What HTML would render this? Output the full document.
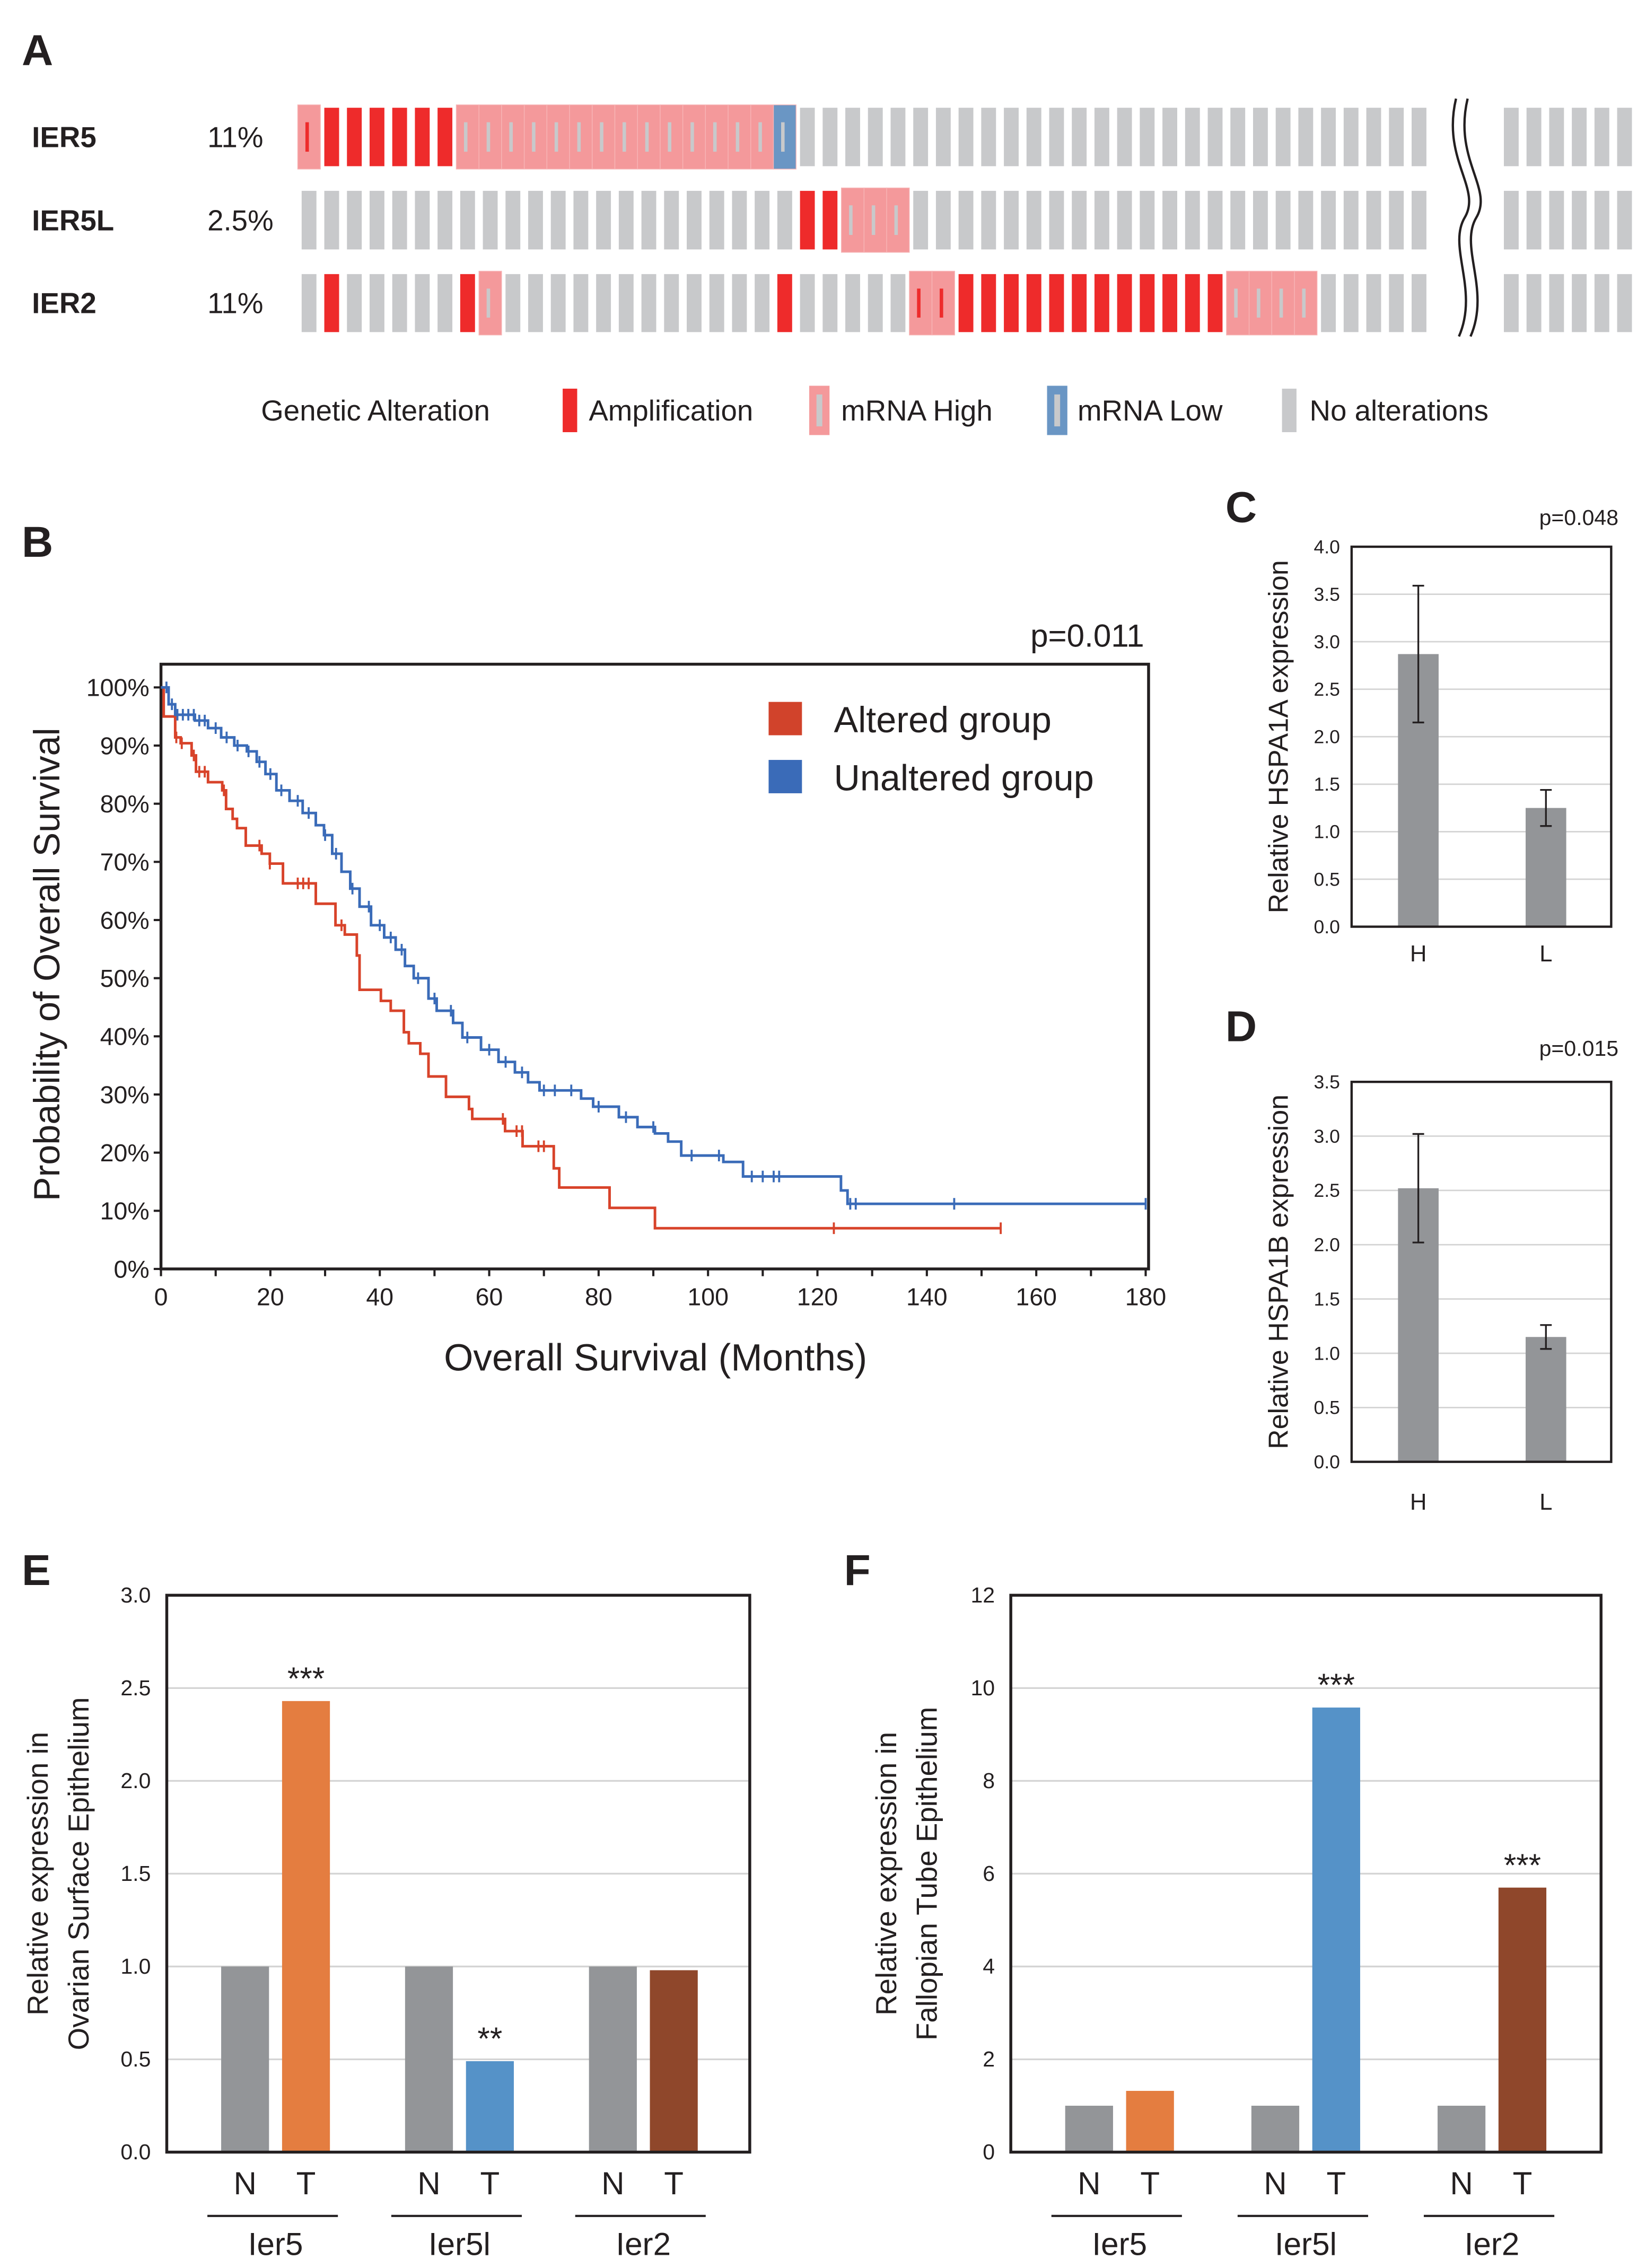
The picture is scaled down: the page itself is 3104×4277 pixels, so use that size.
<!DOCTYPE html>
<html><head><meta charset="utf-8"><style>
html,body{margin:0;padding:0;background:#fff}
svg{display:block}
text{font-family:"Liberation Sans",Arial,sans-serif;fill:#231f20}
</style></head><body>
<svg id="fig" width="3104" height="4277" viewBox="0 0 1135 1563.9" preserveAspectRatio="none" xmlns="http://www.w3.org/2000/svg">
<rect width="1135" height="1564" fill="#fff"/>
<text x="15" y="45" font-size="30" font-weight="bold">A</text>
<text x="15" y="384" font-size="30" font-weight="bold">B</text>
<text x="845" y="360" font-size="30" font-weight="bold">C</text>
<text x="845" y="718" font-size="30" font-weight="bold">D</text>
<text x="15" y="1093" font-size="30" font-weight="bold">E</text>
<text x="582" y="1093" font-size="30" font-weight="bold">F</text>
<g id="pa"></g>
<g id="pb"></g>
<g id="pc"></g>
<g id="pd"></g>
<g id="pe"></g>
<g id="pf"></g>
</svg>
<script>
const NS="http://www.w3.org/2000/svg";
function mk(p,tag,a,txt){const e=document.createElementNS(NS,tag);for(const k in a)e.setAttribute(k,a[k]);if(txt!==undefined)e.textContent=txt;p.appendChild(e);return e;}

// ---- Panel A data ----
const genes=["IER5","IER5L","IER2"];
const genePct=["11%","2.5%","11%"];
const ampCols=[[1,2,3,4,5,6],[22,23],[1,7,21,29,30,31,32,33,34,35,36,37,38,39,40]];
const highCols=[[0,7,8,9,10,11,12,13,14,15,16,17,18,19,20],[24,25,26],[8,27,28,41,42,43,44]];
const highAmpCols=[[0],[],[27,28]];
const lowCols=[[21],[],[]];

// ---- Panel B data ----
const altTimes=[0,0.5,2.6,3.6,5.6,6.4,8.6,11.2,11.9,13.1,13.9,15.5,18.4,19.9,22.3,28.3,31.9,33.6,35.8,36.3,40.2,42,44.4,45.3,47.4,48.9,52.1,56.3,56.9,62.9,66.1,71.8,72.8,82,90.3];
const altSurv=[100,95,91.4,90.4,88.3,85.5,83.7,82.3,79.1,77.4,75.8,72.8,71.4,69.7,66.3,62.8,59.1,57.5,53.9,48.0,46.1,44.4,40.7,38.8,37.0,33.1,29.6,27.5,25.8,23.7,21.1,17.3,14.0,10.5,7.0];
const altEnd=153.5;
const altCensor=[2.8,3.8,6,7,8,11.5,18,19.9,25,26,27,33,62.5,65,66,69,70,123,153.5];
const unTimes=[0,1.4,2.6,6.2,8.6,11,13.4,15.7,17.5,19.1,21.1,23.5,25.9,28.3,29.8,31.3,33,34.6,36.3,38.4,40.8,42.9,44.6,46.2,48.9,50.4,53.4,55.1,58.5,61.7,64.7,67.1,69.2,76.8,79,83.7,87.1,90.3,92.7,95.1,102.8,106.4,124.3,125.5];
const unSurv=[100,97.1,95.3,94.3,93,91.4,90,89,87.2,85.1,82.3,80.5,78.4,76.3,74.6,71.4,68.3,65.4,62.3,59.1,57,54.9,52.1,50,46.5,44.4,42.3,39.8,37.7,35.6,33.8,32.1,30.7,29.3,27.9,26.1,24.4,23.3,21.9,19.5,18.4,15.9,13.5,11.2];
const unEnd=180;
const unCensor=[1,2,3,4,5,6,7,8,10,12,14,16,18,20,22,25,27,30,32,35,38,40,42,44,47,50,53,56,60,63,66,70,72,75,80,85,90,97,102,108,110,112,113,126,127,145,180];
const kmXTicks=[0,20,40,60,80,100,120,140,160,180];
const kmYTicks=[0,10,20,30,40,50,60,70,80,90,100];

// ---- Panels C/D data ----
const hsCats=["H","L"];
const hsp1aVals=[2.87,1.25];
const hsp1aErr=[0.72,0.19];
const hsp1aTicks=[0,0.5,1,1.5,2,2.5,3,3.5,4];
const hsp1bVals=[2.52,1.15];
const hsp1bErr=[0.5,0.11];
const hsp1bTicks=[0,0.5,1,1.5,2,2.5,3,3.5];

// ---- Panels E/F data ----
const genesEF=["Ier5","Ier5l","Ier2"];
const eN=[1.0,1.0,1.0];
const eT=[2.43,0.49,0.98];
const eStars=["***","**",""];
const eTicks=[0,0.5,1,1.5,2,2.5,3];
const fN=[1.0,1.0,1.0];
const fT=[1.32,9.58,5.7];
const fStars=["","***","***"];
const fTicks=[0,2,4,6,8,10,12];
const tColors=["#e47d40","#5592c8","#8f472b"];

// ===== Panel A =====
(function(){
const g=document.getElementById('pa');
const x0=208,pitch=15.62,bw=10.2,rows=[[74.3,114.6],[131.6,172],[189,229]];
genes.forEach((gn,r)=>{
  const [yt,yb]=rows[r],cy=(yt+yb)/2;
  const t=mk(g,'text',{x:22,y:cy+7,'font-size':20,'font-weight':'bold'},gn);
  
  
  const p=mk(g,'text',{x:143,y:cy+7,'font-size':20},genePct[r]);
  
  
  for(let i=0;i<56;i++){
    const x=i<50?x0+i*pitch:1037+(i-50)*pitch;
    let type='none';
    if(i<50){ if(lowCols[r].includes(i))type='low'; else if(highAmpCols[r].includes(i))type='highamp'; else if(highCols[r].includes(i))type='high'; else if(ampCols[r].includes(i))type='amp'; }
    if(type==='high'||type==='low'||type==='highamp'){
      const b=mk(g,'rect',{x:x-2.7,y:yt-2,width:pitch,height:yb-yt+4,fill:type==='low'?'#6a96c4':'#f4999b',stroke:'#f7b5b6','stroke-width':0.5});
      
      
      mk(g,'rect',{x:x+bw/2-2.5,y:yt+10,width:2.4,height:yb-yt-20,fill:type==='highamp'?'#ee2b2b':'#c8c9cb'});
    } else {
      const b=mk(g,'rect',{x:x,y:yt,width:bw,height:yb-yt,fill:type==='amp'?'#ee2b2b':'#c8c9cb'});
      
      
    }
  }
});
const br=mk(g,'path',{d:'M1004,68 C994,110 1022,130 1010,150 C998,170 1020,200 1006,232',fill:'none',stroke:'#231f20','stroke-width':1.6});

mk(g,'path',{d:'M1012,68 C1002,110 1030,130 1018,150 C1006,170 1028,200 1014,232',fill:'none',stroke:'#231f20','stroke-width':1.6});
const L=[["Genetic Alteration",180,null],["Amplification",406,'amp'],["mRNA High",580,'high'],["mRNA Low",743,'low'],["No alterations",903,'none']];
const lx={amp:388,high:558,low:722,none:884};
L.forEach(([t,x,k])=>{
  const e=mk(g,'text',{x:x,y:290,'font-size':20,fill:'#333'},t);
  
  if(k==='amp')mk(g,'rect',{x:388,y:268,width:10,height:30,fill:'#ee2b2b'});
  if(k==='none')mk(g,'rect',{x:884,y:268,width:10,height:30,fill:'#c8c9cb'});
  if(k==='high'||k==='low'){mk(g,'rect',{x:lx[k],y:266,width:14,height:34,fill:k==='high'?'#f4999b':'#6a96c4'});mk(g,'rect',{x:lx[k]+5,y:272,width:4,height:22,fill:'#c8c9cb'});}
});
})();

// ===== Panel B =====
(function(){
const g=document.getElementById('pb');
const X0=111,X1=790,Y0=875,Y100=474;
const sx=m=>X0+(X1-X0)*m/180, sy=v=>Y0-(Y0-Y100)*v/100;
const f=mk(g,'rect',{x:X0,y:458,width:681,height:417,fill:'none',stroke:'#231f20','stroke-width':2});

kmYTicks.forEach(v=>{mk(g,'line',{x1:X0-5,x2:X0,y1:sy(v),y2:sy(v),stroke:'#231f20','stroke-width':1.5});
  const t=mk(g,'text',{x:X0-8,y:sy(v)+6,'font-size':17,'text-anchor':'end'},v+'%');});
for(let m=0;m<=180;m+=10)mk(g,'line',{x1:sx(m),x2:sx(m),y1:Y0,y2:Y0+5,stroke:'#231f20','stroke-width':1.5});
kmXTicks.forEach(m=>{const t=mk(g,'text',{x:sx(m),y:900,'font-size':17,'text-anchor':'middle'},m);});
const xt=mk(g,'text',{x:452,y:945,'font-size':26,'text-anchor':'middle'},'Overall Survival (Months)');
const yt=mk(g,'text',{x:0,y:0,'font-size':25,'text-anchor':'middle',transform:'translate(41,665) rotate(-90)'},'Probability of Overall Survival');
const pv=mk(g,'text',{x:789,y:446,'font-size':22,'text-anchor':'end'},'p=0.011');
function curve(T,S,end,C,col,name){
  let d='M'+sx(T[0])+','+sy(S[0]);
  for(let i=1;i<T.length;i++){d+=' H'+sx(T[i])+' V'+sy(S[i]);}
  d+=' H'+sx(end);
  const p=mk(g,'path',{d:d,fill:'none',stroke:col,'stroke-width':1.8});
  
  C.forEach(c=>{let v=S[0];for(let i=0;i<T.length;i++)if(T[i]<=c)v=S[i];
    const m=mk(g,'line',{x1:sx(c),x2:sx(c),y1:sy(v)-4,y2:sy(v)+4,stroke:col,'stroke-width':1.4});
    });
}
curve(altTimes,altSurv,altEnd,altCensor,'#d8432a','altered-curve');
curve(unTimes,unSurv,unEnd,unCensor,'#3a6bb8','unaltered-curve');
[['Altered group','#d1432b',484,505],['Unaltered group','#3a6bb8',524,545]].forEach(([t,c,y,ty])=>{
  const r=mk(g,'rect',{x:530,y:y,width:23,height:23,fill:c});
  const e=mk(g,'text',{x:575,y:ty,'font-size':25},t);});
})();

// ===== Panels C/D =====
function hsp(id,top,bot,maxV,ticks,vals,errs,pv,pvy,title,xly){
  const g=document.getElementById(id);
  const X0=932,X1=1111,sy=v=>bot-(bot-top)*v/maxV;
  ticks.forEach(v=>{if(v>0&&v<maxV){const l=mk(g,'line',{x1:X0,x2:X1,y1:sy(v),y2:sy(v),stroke:'#d4d4d4','stroke-width':1});}
    const t=mk(g,'text',{x:924,y:sy(v)+4.5,'font-size':13,'text-anchor':'end'},v.toFixed(1));});
  const cx=[978,1066];
  vals.forEach((v,i)=>{
    const b=mk(g,'rect',{x:cx[i]-14,y:sy(v),width:28,height:bot-sy(v),fill:'#939598'});
    const e=errs[i];
    mk(g,'path',{d:`M${cx[i]},${sy(v+e)}V${sy(v-e)}M${cx[i]-4},${sy(v+e)}H${cx[i]+4}M${cx[i]-4},${sy(v-e)}H${cx[i]+4}`,stroke:'#231f20','stroke-width':1.2,fill:'none'});
    const t=mk(g,'text',{x:cx[i],y:xly,'font-size':16,'text-anchor':'middle'},hsCats[i]);
  });
  const f=mk(g,'rect',{x:X0,y:top,width:X1-X0,height:bot-top,fill:'none',stroke:'#231f20','stroke-width':1.6});
  const p=mk(g,'text',{x:1116,y:pvy,'font-size':15,'text-anchor':'end'},pv);
  const yt=mk(g,'text',{x:0,y:0,'font-size':19,'text-anchor':'middle',transform:`translate(888,${(top+bot)/2}) rotate(-90)`},title);
}
hsp('pc',377,639,4,hsp1aTicks,hsp1aVals,hsp1aErr,'p=0.048',362,'Relative HSPA1A expression',663);
hsp('pd',746,1008,3.5,hsp1bTicks,hsp1bVals,hsp1bErr,'p=0.015',728,'Relative HSPA1B expression',1041);

// ===== Panels E/F =====
function ef(id,X0,X1,maxV,ticks,N,T,stars,dec,tl1,tl2,tx){
  const g=document.getElementById(id);
  const top=1100,bot=1484,sy=v=>bot-(bot-top)*v/maxV;
  ticks.forEach(v=>{if(v>0&&v<maxV){const l=mk(g,'line',{x1:X0,x2:X1,y1:sy(v),y2:sy(v),stroke:'#d4d4d4','stroke-width':1.2});}
    const t=mk(g,'text',{x:X0-11,y:sy(v)+5,'font-size':15,'text-anchor':'end'},v.toFixed(dec));});
  const step=(X1-X0)/3.17;
  genesEF.forEach((gn,i)=>{
    const nc=X0+54+i*step*1.0, tc=nc+42;
    const nb=mk(g,'rect',{x:nc-16.5,y:sy(N[i]),width:33,height:bot-sy(N[i]),fill:'#939598'});
    const tb=mk(g,'rect',{x:tc-16.5,y:sy(T[i]),width:33,height:bot-sy(T[i]),fill:tColors[i]});
    if(stars[i]){const s=mk(g,'text',{x:tc,y:sy(T[i])-8,'font-size':22,'text-anchor':'middle'},stars[i]);}
    const a=mk(g,'text',{x:nc,y:1513,'font-size':22,'text-anchor':'middle'},'N');
    const b=mk(g,'text',{x:tc,y:1513,'font-size':22,'text-anchor':'middle'},'T');
    mk(g,'line',{x1:nc-26,x2:tc+22,y1:1528,y2:1528,stroke:'#231f20','stroke-width':1.5});
    const gl=mk(g,'text',{x:(nc+tc)/2,y:1555,'font-size':22,'text-anchor':'middle'},gn);
  });
  const f=mk(g,'rect',{x:X0,y:top,width:X1-X0,height:bot-top,fill:'none',stroke:'#231f20','stroke-width':2});
  const c=1292;
  const y1=mk(g,'text',{x:0,y:0,'font-size':20,'text-anchor':'middle',transform:`translate(${tx},${c}) rotate(-90)`},tl1);
  const y2=mk(g,'text',{x:0,y:0,'font-size':20,'text-anchor':'middle',transform:`translate(${tx+28},${c}) rotate(-90)`},tl2);
}
ef('pe',115,517,3,eTicks,eN,eT,eStars,1,'Relative expression in','Ovarian Surface Epithelium',33);
ef('pf',697,1104,12,fTicks,fN,fT,fStars,0,'Relative expression in','Fallopian Tube Epithelium',618);
</script>
</body></html>
